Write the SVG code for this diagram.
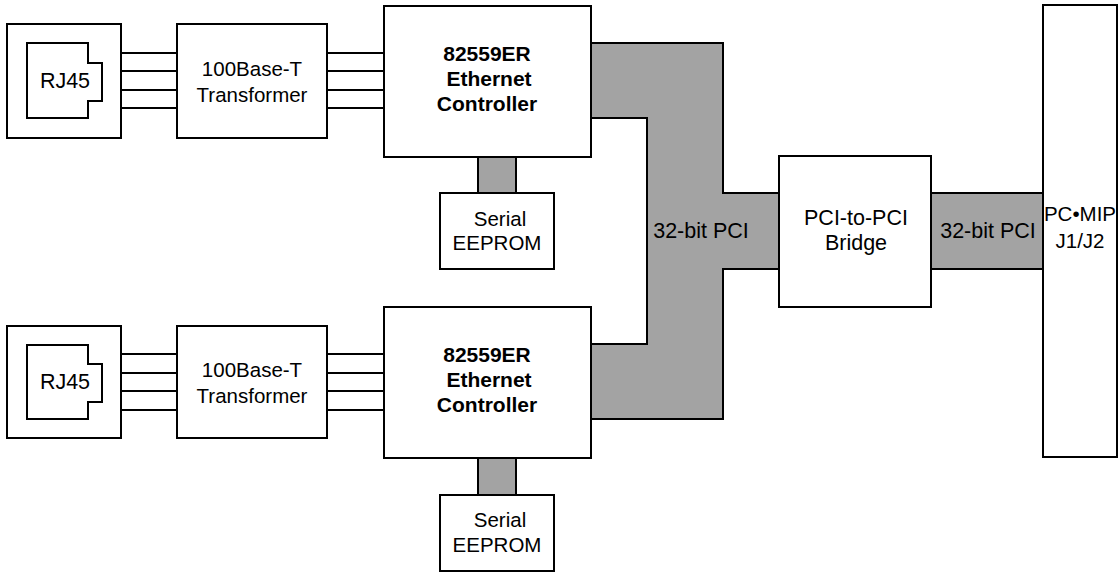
<svg xmlns="http://www.w3.org/2000/svg" width="1119" height="574" viewBox="0 0 1119 574">
<style>
.box{fill:#fff;stroke:#000;stroke-width:2}
.bus{fill:#a3a3a3;stroke:#000;stroke-width:2;stroke-linejoin:miter}
.wire{stroke:#000;stroke-width:2;fill:none}
text{font-family:"Liberation Sans",Arial,sans-serif;fill:#000;text-anchor:middle}
.t{font-size:20.5px}
.b{font-size:21px;font-weight:bold}
.p{font-size:21.5px}
</style>
<rect width="1119" height="574" fill="#fff"/>
<g id="connectors">
  <path class="bus" d="M591,43 H723 V193 H779 V269 H723 V419 H591 V344 H647 V118 H591 Z"/>
  <rect class="bus" x="931" y="193" width="112" height="76"/>
  <rect class="bus" x="478" y="157" width="38" height="36"/>
  <rect class="bus" x="478" y="458" width="38" height="37"/>
  <path class="wire" d="M121,53H177M121,71H177M121,90H177M121,108H177"/>
  <path class="wire" d="M327,53H384M327,71H384M327,90H384M327,108H384"/>
  <path class="wire" d="M121,354H177M121,373H177M121,391H177M121,410H177"/>
  <path class="wire" d="M327,354H384M327,373H384M327,391H384M327,410H384"/>
  <text class="p" x="701" y="238">32-bit PCI</text>
  <text class="p" x="988" y="238">32-bit PCI</text>
</g>
<g id="rj45-1">
  <rect class="box" x="7" y="24" width="114" height="114"/>
  <path class="box" d="M27,43 H88 V63 H102 V101 H88 V118 H27 Z"/>
  <text class="p" x="65" y="88">RJ45</text>
</g>
<g id="transformer-1">
  <rect class="box" x="177" y="24" width="150" height="114"/>
  <text class="t" x="252" y="76">100Base-T</text>
  <text class="t" x="252" y="102">Transformer</text>
</g>
<g id="controller-1">
  <rect class="box" x="384" y="6" width="207" height="151"/>
  <text class="b" x="487" y="61">82559ER</text>
  <text class="b" x="489" y="86">Ethernet</text>
  <text class="b" x="487" y="111">Controller</text>
</g>
<g id="eeprom-1">
  <rect class="box" x="440" y="193" width="114" height="76"/>
  <text class="t" x="500" y="226">Serial</text>
  <text class="t" x="497" y="250">EEPROM</text>
</g>
<g id="rj45-2">
  <rect class="box" x="7" y="326" width="114" height="112"/>
  <path class="box" d="M27,345 H88 V364 H102 V402 H88 V419 H27 Z"/>
  <text class="p" x="65" y="389">RJ45</text>
</g>
<g id="transformer-2">
  <rect class="box" x="177" y="326" width="150" height="112"/>
  <text class="t" x="252" y="377">100Base-T</text>
  <text class="t" x="252" y="403">Transformer</text>
</g>
<g id="controller-2">
  <rect class="box" x="384" y="307" width="207" height="151"/>
  <text class="b" x="487" y="362">82559ER</text>
  <text class="b" x="489" y="387">Ethernet</text>
  <text class="b" x="487" y="412">Controller</text>
</g>
<g id="eeprom-2">
  <rect class="box" x="440" y="495" width="114" height="76"/>
  <text class="t" x="500" y="527">Serial</text>
  <text class="t" x="497" y="552">EEPROM</text>
</g>
<g id="bridge">
  <rect class="box" x="779" y="156" width="152" height="151"/>
  <text class="p" x="856" y="225">PCI-to-PCI</text>
  <text class="p" x="856" y="250">Bridge</text>
</g>
<g id="pcmip">
  <rect class="box" x="1043" y="5" width="74" height="452"/>
  <text class="t" x="1080" y="221" font-size="20px">PC•MIP</text>
  <text class="t" x="1080" y="248" font-size="20px">J1/J2</text>
</g>
</svg>
